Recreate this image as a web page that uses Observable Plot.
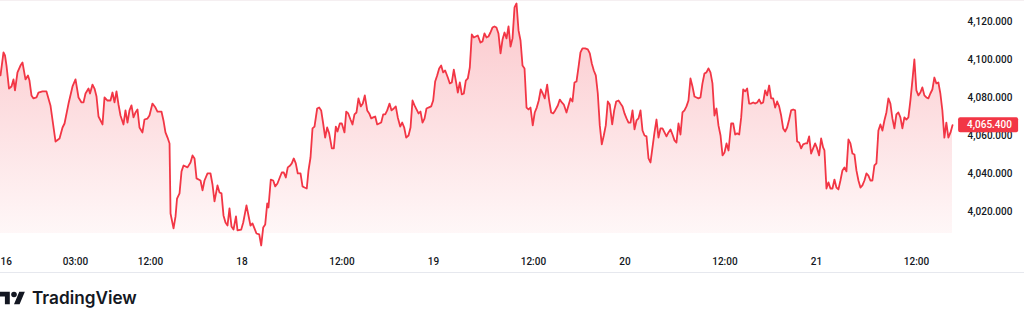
<!DOCTYPE html>
<html>
<head>
<meta charset="utf-8">
<script src="https://cdn.jsdelivr.net/npm/d3@7"></script>
<script src="https://cdn.jsdelivr.net/npm/@observablehq/plot@0.6"></script>
<style>
  html, body { margin: 0; padding: 0; background: #ffffff; }
  #wrap { position: relative; width: 1024px; height: 319px; overflow: hidden; font-family: Roboto, "Noto Sans", sans-serif; }
  #chart svg { display: block; }
  #topline { position: absolute; left: 0; top: 0; width: 1024px; height: 1px; background: #f5eff1; }
  #sep { position: absolute; left: 0; top: 272px; width: 1024px; height: 1px; background: #e6e8ee; }
  #logo { position: absolute; left: 0; top: 285px; }
</style>
</head>
<body>
<div id="wrap">
  <div id="chart"></div>
  <div id="topline"></div>
  <div id="sep"></div>
  <svg id="logo" width="150" height="30" viewBox="0 0 150 30">
    <g transform="translate(0,3.9) scale(0.7)" fill="#131722">
      <path d="M14 22H7V11H0V4h14v18zM28 22h-8l7.5-18h8L28 22z"></path>
      <circle cx="20" cy="8" r="4"></circle>
    </g>
    <text x="32" y="18.8" font-family="Inter, 'Open Sans', sans-serif" font-weight="600" font-size="17.2" fill="#131722">TradingView</text>
  </svg>
</div>
<script>
// ---- data: trading hours since session open (Sun 16, 18:00) and price ----
const hours = [
  0.00,0.36,0.54,0.72,1.02,1.32,1.56,1.74,2.04,2.40,2.64,3.00,3.30,3.48,3.72,3.96,4.32,4.56,5.04,5.52,
  6.00,6.61,7.09,7.45,7.69,8.17,8.65,9.01,9.37,9.73,9.97,10.21,10.57,10.75,11.05,11.29,11.53,11.77,12.25,12.49,
  12.85,13.21,13.45,13.69,13.93,14.17,14.41,14.77,15.01,15.25,15.49,15.73,15.97,16.21,16.45,16.69,17.05,17.29,17.65,17.89,
  18.25,18.61,18.85,19.33,19.57,19.81,20.06,20.30,20.42,20.78,21.02,21.20,21.50,21.74,21.98,22.46,22.82,23.06,23.30,23.54,
  24.02,24.26,24.50,24.86,25.22,25.46,25.70,26.06,26.30,26.54,26.78,27.02,27.26,27.50,27.74,27.98,28.28,28.46,
  28.91,29.15,29.54,29.78,30.02,30.26,30.50,30.74,31.07,31.31,31.55,31.79,32.03,32.18,32.46,32.75,32.99,33.26,33.54,33.78,
  34.02,34.26,34.50,34.79,34.98,35.22,35.46,35.70,36.03,36.27,36.51,36.78,36.99,37.23,37.47,37.71,38.03,38.27,38.51,38.75,
  38.99,39.23,39.47,39.79,40.03,40.27,40.47,40.75,40.99,41.31,41.52,41.76,42.03,42.27,42.51,42.75,42.99,43.27,43.51,43.75,
  44.04,44.28,44.52,44.76,45.00,45.24,45.48,45.72,45.96,46.20,46.44,46.72,46.96,47.23,47.47,47.71,48.00,48.24,48.48,48.72,
  49.00,49.24,49.48,49.72,49.96,50.20,50.44,50.68,50.92,51.16,51.40,51.72,51.96,52.20,52.44,52.68,52.92,53.16,53.40,53.72,
  53.96,54.20,54.44,54.68,54.92,55.16,55.40,55.64,55.88,56.12,56.36,56.60,56.84,57.08,57.32,
  57.64,57.88,58.12,58.36,58.60,58.84,59.08,59.32,59.56,59.80,60.05,60.29,60.53,60.77,61.01,61.25,61.49,61.73,61.97,62.21,
  62.45,62.69,62.93,63.17,63.41,63.65,63.92,64.16,64.40,64.64,64.88,65.12,65.36,65.65,65.89,66.13,66.37,66.61,66.93,67.17,
  67.41,67.65,67.97,68.21,68.45,68.69,68.93,69.17,69.41,69.65,69.89,70.21,70.53,70.77,71.01,71.25,71.49,71.73,71.97,72.21,
  72.45,72.69,72.93,73.17,73.46,73.70,73.94,74.22,74.46,74.70,74.94,75.18,75.42,75.66,75.90,76.14,76.38,76.62,76.86,77.10,
  77.34,77.58,77.82,78.06,78.30,78.54,78.78,79.02,79.26,79.50,79.74,79.98,80.22,80.46,80.70,80.94,81.18,81.42,81.66,81.90,
  82.14,82.38,82.62,82.86,83.10,83.34,83.58,83.82,84.06,84.30,84.54,84.78,85.02,85.26,85.50,85.74,85.98,
  86.22,86.47,86.71,86.95,87.19,87.43,87.75,87.99,88.23,88.47,88.71,88.95,89.19,89.43,89.67,89.91,90.15,90.39,90.63,90.87,
  91.11,91.35,91.59,91.83,92.07,92.31,92.55,92.79,93.03,93.27,93.51,93.75,93.99,94.23,94.47,94.71,94.95,95.19,95.43,95.67,
  95.91,96.15,96.39,96.63,96.87,97.11,97.35,97.59,97.83,98.07,98.31,98.55,98.79,98.95,99.19,99.43,99.67,99.91,100.15,100.39,
  100.63,100.87,101.11,101.35,101.59,101.83,102.07,102.31,102.55,102.79,103.03,103.27,103.51,103.75,103.99,104.23,104.47,104.71,104.95,105.19,
  105.43,105.67,105.91,106.15,106.39,106.63,106.87,107.11,107.35,107.59,107.83,108.07,108.31,108.55,108.79,109.03,109.27,109.51,109.75,109.99,
  110.23,110.47,110.71,110.95,111.19,111.43,111.67,111.91,112.15,112.39,112.63,112.87,113.11,113.35,113.59,113.83,114.09,114.33
];
const prices = [
  4091.6,4103.7,4102.1,4096.8,4084.7,4085.8,4089.5,4083.7,4093.2,4096.8,4098.4,4089.5,4091.6,4088.9,4081.1,4079.5,4080.0,4082.6,4083.2,4083.2,
  4075.8,4056.8,4058.4,4064.2,4066.3,4076.8,4085.8,4089.5,4080.0,4077.4,4077.4,4082.1,4084.7,4082.1,4086.8,4084.7,4080.5,4070.0,4065.8,4080.0,
  4078.4,4078.4,4082.6,4077.4,4083.2,4076.3,4070.5,4065.8,4073.2,4066.8,4073.2,4075.8,4069.5,4072.1,4073.7,4064.2,4061.6,4068.4,4068.9,4070.5,
  4076.8,4074.7,4072.6,4072.6,4067.9,4061.6,4058.9,4055.8,4018.9,4011.1,4017.4,4026.8,4029.5,4041.1,4044.2,4043.2,4045.8,4049.5,4047.9,4037.4,
  4036.3,4031.1,4036.3,4040.0,4040.0,4034.2,4025.3,4033.7,4030.0,4029.5,4017.9,4014.2,4012.6,4021.6,4012.1,4010.5,4017.4,4010.0,
  4010.5,4014.2,4023.2,4017.9,4012.6,4013.7,4011.1,4008.4,4007.9,4002.1,4011.6,4013.2,4024.2,4022.1,4036.8,4036.3,4033.2,4034.7,4037.9,4040.5,
  4040.5,4037.9,4043.2,4044.2,4045.3,4047.9,4045.3,4040.0,4040.0,4033.2,4032.6,4032.1,4041.6,4048.4,4063.7,4064.7,4074.2,4074.7,4073.2,4066.3,
  4058.9,4064.2,4061.1,4053.2,4053.2,4064.7,4062.1,4066.3,4066.3,4061.6,4072.6,4071.6,4068.4,4065.8,4071.1,4072.1,4079.5,4075.3,4076.8,4081.1,
  4073.2,4071.6,4069.0,4069.5,4070.0,4065.8,4066.3,4066.8,4071.1,4071.1,4073.2,4076.8,4073.2,4074.2,4075.3,4069.5,4064.7,4066.8,4064.2,4058.9,
  4060.0,4064.2,4078.4,4075.8,4073.7,4071.6,4072.6,4066.8,4068.9,4074.2,4074.7,4075.3,4078.4,4088.4,4091.6,4095.3,4096.8,4093.2,4094.2,4090.5,
  4087.4,4087.9,4094.7,4088.9,4082.6,4087.9,4081.6,4082.1,4088.9,4090.0,4095.8,4113.2,4111.6,4112.1,4112.6,
  4108.9,4109.5,4113.7,4111.6,4112.1,4114.2,4116.8,4117.4,4116.8,4113.7,4103.2,4110.5,4114.2,4111.1,4117.4,4106.8,4111.1,4127.4,4129.5,4115.3,
  4110.0,4096.8,4095.3,4074.7,4073.7,4074.7,4065.3,4072.1,4074.7,4078.4,4084.2,4082.1,4079.5,4086.8,4078.4,4072.1,4071.6,4073.2,4075.8,4078.9,
  4077.4,4076.3,4072.1,4075.8,4079.5,4077.9,4087.9,4088.4,4095.8,4103.7,4105.8,4105.8,4105.3,4103.2,4097.9,4094.2,4091.6,4082.1,4065.3,4055.3,
  4060.0,4065.3,4077.9,4076.3,4065.8,4073.2,4077.9,4078.4,4076.8,4075.3,4071.6,4069.0,4066.8,4066.8,4073.2,4063.2,4067.9,4069.0,4073.2,4062.6,
  4060.0,4059.5,4047.9,4045.8,4053.7,4061.6,4068.4,4058.9,4063.7,4063.7,4061.6,4059.5,4061.6,4063.2,4060.5,4057.4,4056.3,4066.3,4060.5,4072.1,
  4073.2,4075.3,4078.4,4090.0,4085.8,4080.5,4080.0,4079.5,4080.0,4087.4,4092.6,4093.2,4095.3,4093.2,4087.4,4070.5,4074.2,
  4065.3,4060.0,4049.5,4051.1,4055.8,4052.1,4066.3,4066.3,4060.5,4061.1,4060.5,4069.5,4084.2,4083.2,4084.7,4076.8,4076.8,4077.4,4076.8,4077.4,
  4078.9,4076.8,4077.4,4083.7,4081.1,4086.3,4079.5,4079.5,4074.7,4077.9,4075.3,4070.5,4063.7,4062.1,4064.2,4068.4,4073.2,4073.7,4073.2,4056.8,
  4056.3,4053.2,4055.3,4055.8,4055.8,4059.5,4050.5,4053.2,4055.8,4053.2,4049.5,4058.4,4053.7,4052.1,4032.1,4035.3,4032.1,4032.1,4036.8,4032.6,
  4031.6,4036.3,4041.6,4043.2,4041.1,4057.9,4055.8,4050.5,4050.0,4041.6,4036.3,4032.6,4033.7,4036.3,4040.0,4038.9,4036.3,4036.3,4044.2,4045.3,
  4062.6,4065.8,4062.6,4067.9,4072.1,4079.5,4076.8,4069.0,4063.7,4071.1,4072.1,4069.5,4063.7,4069.5,4068.4,4069.5,4078.4,4088.9,4100.0,4083.7,
  4081.1,4082.6,4085.3,4081.1,4080.0,4079.5,4082.1,4084.2,4090.5,4087.4,4087.9,4082.1,4073.2,4058.9,4066.8,4058.9,4061.6,4065.4
];
const lastPrice = 4065.4;

// ---- axes ----
const yTicks = [4020, 4040, 4060, 4080, 4100, 4120];
const xTickHours = [0, 9, 18, 29, 41, 52, 64, 75, 87, 98, 110];
const xTickLabels = ["16", "03:00", "12:00", "18", "12:00", "19", "12:00", "20", "12:00", "21", "12:00"];
const xDomain = [0, 115];
const yDomain = [4008.4, 4131.05];

const series = hours.map((h, i) => ({h, p: prices[i]}));
const xTicks = xTickHours.map((h, i) => ({h, label: xTickLabels[i]}));
const fmt = d3.format(",.3f");
const NS = "http://www.w3.org/2000/svg";
const RED = "#f23645";
const INK = "#131722";

function gradientDefs(index, scales, values, dims) {
  const defs = document.createElementNS(NS, "defs");
  const lg = document.createElementNS(NS, "linearGradient");
  lg.setAttribute("id", "tvFill");
  lg.setAttribute("gradientUnits", "userSpaceOnUse");
  lg.setAttribute("x1", 0); lg.setAttribute("x2", 0);
  lg.setAttribute("y1", dims.marginTop);
  lg.setAttribute("y2", dims.height - dims.marginBottom);
  [[0, 0.28], [1, 0.04]].forEach(([o, a]) => {
    const s = document.createElementNS(NS, "stop");
    s.setAttribute("offset", o);
    s.setAttribute("stop-color", RED);
    s.setAttribute("stop-opacity", a);
    lg.appendChild(s);
  });
  defs.appendChild(lg);
  return defs;
}

function priceLabel(index, scales, values, dims) {
  const g = document.createElementNS(NS, "g");
  const y = scales.y(lastPrice);
  const x0 = dims.width - dims.marginRight;
  const r = document.createElementNS(NS, "rect");
  r.setAttribute("x", x0 + 0.5);
  r.setAttribute("y", y - 7.5);
  r.setAttribute("width", 60);
  r.setAttribute("height", 15);
  r.setAttribute("rx", 2);
  r.setAttribute("fill", RED);
  const t = document.createElementNS(NS, "text");
  t.setAttribute("x", x0 + 9.5);
  t.setAttribute("y", y);
  t.setAttribute("dy", "0.35em");
  t.setAttribute("text-anchor", "start");
  t.setAttribute("fill", "#ffffff");
  t.setAttribute("font-size", 10);
  t.setAttribute("font-weight", 500);
  t.setAttribute("font-variant-numeric", "tabular-nums");
  t.textContent = fmt(lastPrice);
  g.appendChild(r); g.appendChild(t);
  return g;
}

const chart = Plot.plot({
  width: 1024,
  height: 272,
  marginLeft: 0,
  marginRight: 66.4,
  marginTop: 0,
  marginBottom: 39,
  style: {fontFamily: "Roboto, 'Noto Sans', sans-serif", fontSize: "10px", fontWeight: 500, color: INK, background: "transparent", overflow: "visible"},
  x: {domain: xDomain, axis: null, label: null},
  y: {domain: yDomain, axis: null, label: null},
  marks: [
    gradientDefs,
    Plot.areaY(series, {x: "h", y1: () => yDomain[0], y2: "p", fill: "url(#tvFill)", clip: true}),
    Plot.lineY(series, {x: "h", y: "p", stroke: RED, strokeWidth: 1.8, strokeLinejoin: "round"}),
    Plot.axisY(yTicks, {anchor: "right", label: null, tickSize: 0, tickPadding: 9.5, tickFormat: fmt, fill: INK}),
    Plot.text(xTicks.slice(1), {x: "h", text: "label", frameAnchor: "bottom", lineAnchor: "top", dy: 24.4, fill: INK}),
    Plot.text(xTicks.slice(0, 1), {x: "h", text: "label", frameAnchor: "bottom", lineAnchor: "top", dy: 24.4, textAnchor: "start", fill: INK}),
    priceLabel
  ]
});
document.getElementById("chart").appendChild(chart);
</script>
</body>
</html>
